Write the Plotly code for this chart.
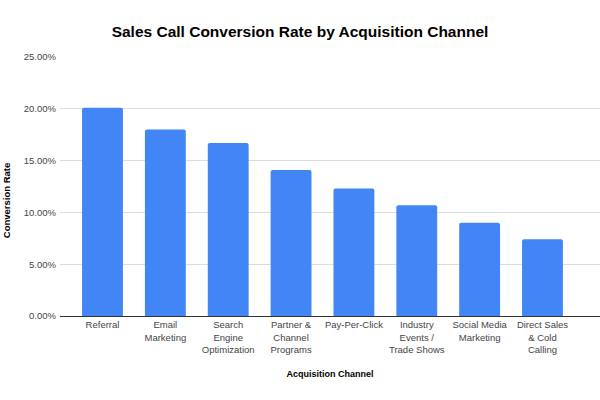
import plotly.graph_objects as go

categories = ["Referral", "Email<br>Marketing", "Search<br>Engine<br>Optimization",
              "Partner &<br>Channel<br>Programs", "Pay-Per-Click",
              "Industry<br>Events /<br>Trade Shows", "Social Media<br>Marketing",
              "Direct Sales<br>& Cold<br>Calling"]
conversion_rate = [0.201, 0.180, 0.167, 0.141, 0.123, 0.107, 0.090, 0.074]
y_ticks = [0, 0.05, 0.10, 0.15, 0.20, 0.25]

x_idx = list(range(len(categories)))

fig = go.Figure(go.Bar(
    x=x_idx, y=conversion_rate, width=0.65,
    marker=dict(color="#4285F4", line=dict(width=0), cornerradius=2),
    hovertemplate="%{y:.2%}<extra></extra>",
))

font = "Liberation Sans, Arial, sans-serif"
fig.update_layout(
    width=600, height=400,
    margin=dict(l=60, r=0, t=57, b=83.5, autoexpand=False),
    paper_bgcolor="white", plot_bgcolor="white",
    showlegend=False,
    title=dict(text="<b>Sales Call Conversion Rate by Acquisition Channel</b>",
               x=0.5, xanchor="center", y=0.922, yanchor="middle",
               font=dict(family=font, size=15.5, color="#000000")),
    font=dict(family=font),
)
fig.update_xaxes(
    tickmode="array", tickvals=x_idx, ticktext=categories,
    range=[-0.676, 7.915], showgrid=False, ticks="",
    showline=True, linecolor="#333333", linewidth=1,
    tickfont=dict(family=font, size=9.5, color="#444444"),
    automargin=False,
    title=dict(text="<b>Acquisition Channel</b>", standoff=16,
               font=dict(family=font, size=9, color="#000000")),
)
fig.update_yaxes(
    range=[0, 0.25], tickmode="array", tickvals=y_ticks, tickformat=".2%",
    showgrid=True, gridcolor="#dddddd", gridwidth=1, zeroline=False,
    showline=False, ticks="", ticklabelstandoff=3, automargin=False,
    tickfont=dict(family=font, size=9.5, color="#444444"),
)
fig.add_annotation(
    text="<b>Conversion Rate</b>", textangle=-90,
    xref="paper", yref="paper", x=-60/540, y=(316.5-201)/259.5,
    xanchor="left", yanchor="middle", xshift=-1, showarrow=False,
    font=dict(family=font, size=9.5, color="#000000"),
)

fig.write_html("out.html", config={"displayModeBar": False},
               post_script="document.body.style.margin='0';document.body.style.overflow='hidden';")
